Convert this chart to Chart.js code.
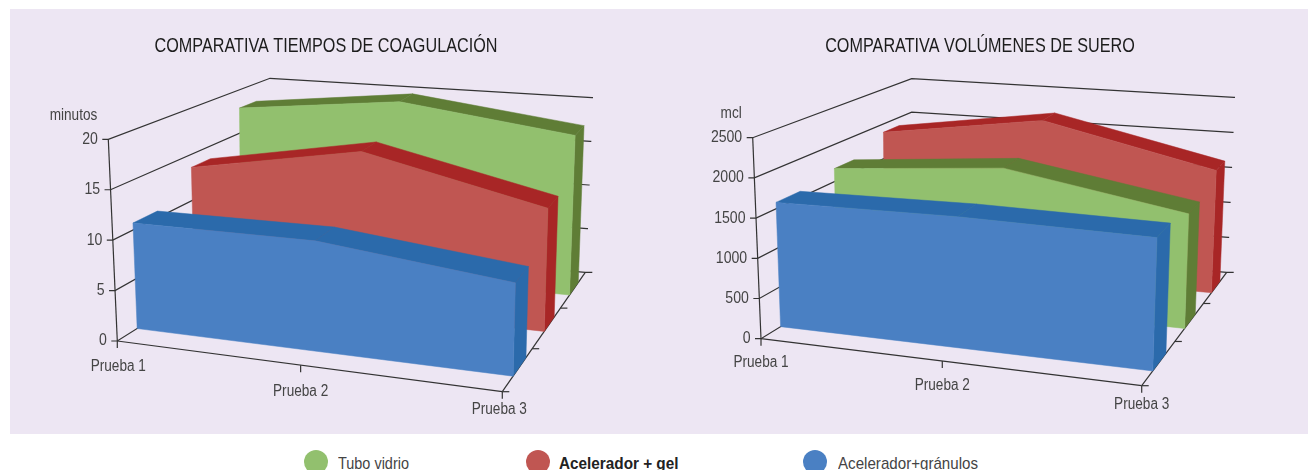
<!DOCTYPE html>
<html>
<head>
<meta charset="utf-8">
<script src="https://cdn.jsdelivr.net/npm/chart.js@4"></script>
<style>
  html, body { margin: 0; padding: 0; background: #fff; }
  body { position: relative; width: 1308px; height: 470px; overflow: hidden; font-family: "Liberation Sans", sans-serif; }
  #panel { position: absolute; left: 10px; top: 9px; width: 1298px; height: 425px; background: #ede6f3; }
  .box { position: absolute; top: 0; width: 654px; height: 434px; }
  #boxLeft { left: 0; }
  #boxRight { left: 654px; }
  .key { position: absolute; top: 450px; height: 24px; line-height: 24px; font-size: 17px; color: #444; white-space: nowrap; }
  .key i { position: absolute; left: 0; top: 0; width: 24px; height: 24px; border-radius: 50%; }
  .key span { position: absolute; left: 34px; top: 2px; transform-origin: left center; }
</style>
</head>
<body>
<div id="panel"></div>
<div class="box" id="boxLeft"><canvas id="chartTiempos"></canvas></div>
<div class="box" id="boxRight"><canvas id="chartVolumen"></canvas></div>
<div id="legend"></div>
<script>
const categories = ['Prueba 1', 'Prueba 2', 'Prueba 3'];
const seriesNames = ['Tubo vidrio', 'Acelerador + gel', 'Acelerador+gránulos'];

const tiemposTubo = [17.9, 20, 17.7];
const tiemposGel = [13.6, 17.1, 13];
const tiemposGranulos = [10.7, 11.1, 9.3];
const tiemposTicks = [0, 5, 10, 15, 20];

const volumenTubo = [1675, 1890, 1510];
const volumenGel = [1880, 2215, 1695];
const volumenGranulos = [1580, 1650, 1660];
const volumenTicks = [0, 500, 1000, 1500, 2000, 2500];

const faceColors = { tubo: '#92c06e', gel: '#c05652', granulos: '#4a80c3' };
const sideColors = { tubo: '#5f7d36', gel: '#a82626', granulos: '#2b6aab' };

const fontFamily = '"Liberation Sans", sans-serif';
const lineColor = '#333';
const textColor = '#444';

// perspective warp of the category axis
function warp(u) {
  const k = 1.1;
  return u / (u + k * (1 - u));
}

function lerp(a, b, t) { return a + (b - a) * t; }

// u along categories, w up the value axis, z into the picture, all 0..1
function project(box, u, w, z) {
  const uu = warp(u);
  const out = [0, 1].map((i) => {
    const bottom = lerp(lerp(box.fl[i], box.fr[i], uu), lerp(box.bl[i], box.br[i], uu), z);
    const top = lerp(lerp(box.flt[i], box.frt[i], uu), lerp(box.blt[i], box.brt[i], uu), z);
    return lerp(bottom, top, w);
  });
  return { x: out[0], y: out[1] };
}

function polygon(ctx, pts, color) {
  ctx.beginPath();
  pts.forEach((p, i) => (i ? ctx.lineTo(p.x, p.y) : ctx.moveTo(p.x, p.y)));
  ctx.closePath();
  ctx.fillStyle = color;
  ctx.fill();
  ctx.strokeStyle = color;
  ctx.lineWidth = 0.5;
  ctx.stroke();
}

function segment(ctx, a, b) {
  ctx.beginPath();
  ctx.moveTo(a.x, a.y);
  ctx.lineTo(b.x, b.y);
  ctx.stroke();
}

// the reference type is condensed, no narrow face is installed so squeeze it
function squeezedText(ctx, text, x, y, sx) {
  ctx.save();
  ctx.translate(x, y);
  ctx.scale(sx, 1);
  ctx.fillText(text, 0, 0);
  ctx.restore();
}

const scene3d = {
  id: 'scene3d',
  beforeDatasetsDraw(chart) {
    const { ctx, scales, chartArea } = chart;
    const opts = chart.options.plugins.scene3d;
    const box = opts.box;
    const toU = (i) => (scales.x.getPixelForValue(i) - chartArea.left) / (chartArea.right - chartArea.left);
    const toW = (v) => (chartArea.bottom - scales.y.getPixelForValue(v)) / (chartArea.bottom - chartArea.top);
    const lastCat = categories.length - 1;

    ctx.save();
    ctx.strokeStyle = lineColor;
    ctx.lineWidth = 1.2;
    ctx.textBaseline = 'middle';

    ctx.font = '20px ' + fontFamily;
    ctx.fillStyle = '#1c1c1c';
    ctx.textAlign = 'center';
    squeezedText(ctx, opts.heading, chart.width / 2 - 1, 46, 0.81);

    ctx.font = '16px ' + fontFamily;
    ctx.fillStyle = textColor;

    // walls and value ticks
    opts.ticks.forEach((value) => {
      const w = toW(value);
      const a = project(box, 0, w, 0);
      const b = project(box, 0, w, 1);
      const c = project(box, 1, w, 1);
      ctx.beginPath();
      ctx.moveTo(a.x - 6, a.y);
      ctx.lineTo(a.x, a.y);
      ctx.lineTo(b.x, b.y);
      ctx.lineTo(c.x, c.y);
      ctx.lineTo(c.x + (value === 0 ? 7 : 1), c.y);
      ctx.stroke();
      ctx.textAlign = 'right';
      squeezedText(ctx, String(value), a.x - 10.5, a.y, 0.88);
    });

    // value axis and floor edges
    segment(ctx, project(box, 0, 0, 0), project(box, 0, 1, 0));
    segment(ctx, project(box, 0, 0, 0), project(box, 1, 0, 0));
    segment(ctx, project(box, 1, 0, 0), project(box, 1, 0, 1));

    // category ticks and labels
    ctx.textAlign = 'center';
    categories.forEach((name, i) => {
      const p = project(box, toU(i), 0, 0);
      segment(ctx, p, { x: p.x, y: p.y + 7 });
      const nudge = opts.labelNudge[i];
      squeezedText(ctx, name, p.x + nudge[0], p.y + nudge[1], 0.85);
    });

    // depth ticks on the right floor edge
    opts.depthTicks.concat([0]).forEach((z) => {
      const p = project(box, 1, 0, z);
      segment(ctx, p, { x: p.x + 7, y: p.y });
    });

    // unit label
    const top = project(box, 0, 1, 0);
    ctx.textAlign = 'right';
    squeezedText(ctx, opts.unit, top.x - 11, top.y - 24, 0.85);

    // series, back to front
    opts.order.forEach((dsIndex) => {
      const ds = chart.data.datasets[dsIndex];
      const meta = chart.getDatasetMeta(dsIndex);
      const [z0, z1] = opts.depths[dsIndex];
      const us = ds.data.map((_, i) => toU(i));
      const ws = meta.data.map((pt) => (chartArea.bottom - pt.y) / (chartArea.bottom - chartArea.top));

      // top faces
      for (let i = 0; i < lastCat; i++) {
        polygon(ctx, [
          project(box, us[i], ws[i], z0),
          project(box, us[i + 1], ws[i + 1], z0),
          project(box, us[i + 1], ws[i + 1], z1),
          project(box, us[i], ws[i], z1),
        ], ds.sideColor);
      }
      // right end
      polygon(ctx, [
        project(box, us[lastCat], 0, z0),
        project(box, us[lastCat], ws[lastCat], z0),
        project(box, us[lastCat], ws[lastCat], z1),
        project(box, us[lastCat], 0, z1),
      ], ds.sideColor);
      // front face
      const front = us.map((u, i) => project(box, u, ws[i], z0));
      front.push(project(box, us[lastCat], 0, z0));
      front.push(project(box, us[0], 0, z0));
      polygon(ctx, front, ds.faceColor);
    });
    ctx.restore();
  },
};

function makeChart(canvasId, heading, sets, ticks, sceneOpts) {
  return new Chart(document.getElementById(canvasId), {
    type: 'line',
    data: {
      labels: categories,
      datasets: sets.map((s) => ({
        label: s.label,
        data: s.data,
        faceColor: s.face,
        sideColor: s.side,
        showLine: false,
        pointRadius: 0,
        clip: false,
      })),
    },
    options: {
      responsive: true,
      maintainAspectRatio: false,
      animation: false,
      devicePixelRatio: 1,
      layout: { padding: { left: 100, right: 60, top: 60, bottom: 90 } },
      scales: {
        x: { display: false, offset: false },
        y: { display: false, min: ticks[0], max: ticks[ticks.length - 1] },
      },
      plugins: {
        legend: { display: false },
        tooltip: { enabled: false },
        scene3d: Object.assign({ ticks, heading }, sceneOpts),
      },
    },
    plugins: [scene3d],
  });
}

makeChart('chartTiempos', 'COMPARATIVA TIEMPOS DE COAGULACIÓN', [
  { label: seriesNames[0], data: tiemposTubo, face: faceColors.tubo, side: sideColors.tubo },
  { label: seriesNames[1], data: tiemposGel, face: faceColors.gel, side: sideColors.gel },
  { label: seriesNames[2], data: tiemposGranulos, face: faceColors.granulos, side: sideColors.granulos },
], tiemposTicks, {
  unit: 'minutos',
  order: [0, 1, 2],
  depths: [[0.81, 0.915], [0.505, 0.625], [0.13, 0.285]],
  depthTicks: [0.36, 0.7],
  labelNudge: [[1, 26], [0, 26], [-3, 18]],
  box: {
    fl: [117.3, 341], fr: [502.3, 391.7], bl: [270, 245], br: [585.3, 272.3],
    flt: [108.3, 139.3], frt: [507, 187], blt: [270, 78.3], brt: [592, 97.7],
  },
});

makeChart('chartVolumen', 'COMPARATIVA VOLÚMENES DE SUERO', [
  { label: seriesNames[0], data: volumenTubo, face: faceColors.tubo, side: sideColors.tubo },
  { label: seriesNames[1], data: volumenGel, face: faceColors.gel, side: sideColors.gel },
  { label: seriesNames[2], data: volumenGranulos, face: faceColors.granulos, side: sideColors.granulos },
], volumenTicks, {
  unit: 'mcl',
  order: [1, 0, 2],
  depths: [[0.505, 0.63], [0.82, 0.92], [0.13, 0.285]],
  depthTicks: [0.39, 0.725],
  labelNudge: [[0, 24], [0, 25], [0, 19]],
  box: {
    fl: [107, 338.7], fr: [487.7, 385.7], bl: [257.7, 246], br: [572.7, 272.3],
    flt: [98.7, 137.7], frt: [494, 181], blt: [257.7, 78.7], brt: [580, 97.3],
  },
});

const keyLeft = [304, 525.5, 802.5];
const keyGap = [34, 33, 35.5];
const keySqueeze = [0.85, 0.9, 0.89];
const legendColors = [faceColors.tubo, faceColors.gel, faceColors.granulos];
const legendEl = document.getElementById('legend');
seriesNames.forEach((name, i) => {
  const el = document.createElement('div');
  el.className = 'key';
  el.style.left = keyLeft[i] + 'px';
  const weight = i === 1 ? 'font-weight:bold;color:#222;' : '';
  el.innerHTML = '<i style="background:' + legendColors[i] + '"></i><span style="' + weight + 'left:' + keyGap[i] + 'px;transform:scaleX(' + keySqueeze[i] + ')">' + name + '</span>';
  legendEl.appendChild(el);
});
</script>
</body>
</html>
